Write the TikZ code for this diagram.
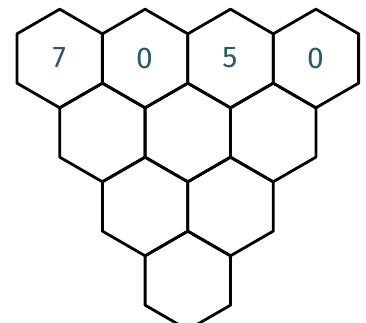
\documentclass[tikz,border=0pt]{standalone}
\usepackage{fontspec}
\setsansfont{Fira Sans}
\definecolor{digit}{HTML}{2E5866}
\tikzset{
  hexline/.style={draw=black, line width=2.8pt, line join=round},
  digitlabel/.style={font=\sffamily\fontsize{30}{30}\selectfont, text=digit, inner sep=0pt}
}
\newcommand{\hexR}{49.3}
\newcommand{\hexcell}[2]{%
  \draw[hexline] (#1,#2) ++(90:\hexR) -- ++(-30:\hexR) -- ++(-90:\hexR) -- ++(-150:\hexR) -- ++(150:\hexR) -- ++(90:\hexR) -- cycle;}
\begin{document}
\begin{tikzpicture}[x=1pt,y=1pt]
\useasboundingbox (0,0) rectangle (366,322);
\begin{scope}
\clip (0,0) rectangle (366,322);
% row 1
\hexcell{59.7}{263.5}
\hexcell{145.1}{263.5}
\hexcell{230.5}{263.5}
\hexcell{315.9}{263.5}
% row 2
\hexcell{102.4}{189.5}
\hexcell{187.8}{189.5}
\hexcell{273.2}{189.5}
% row 3
\hexcell{145.1}{115.5}
\hexcell{230.5}{115.5}
% row 4
\hexcell{187.8}{41.5}
\end{scope}
\node[digitlabel] (d1) at (59.2,264) {7};
\node[digitlabel] (d2) at (144.6,264) {0};
\node[digitlabel] (d3) at (230,264) {5};
\node[digitlabel] (d4) at (315.4,264) {0};
\end{tikzpicture}
\end{document}
